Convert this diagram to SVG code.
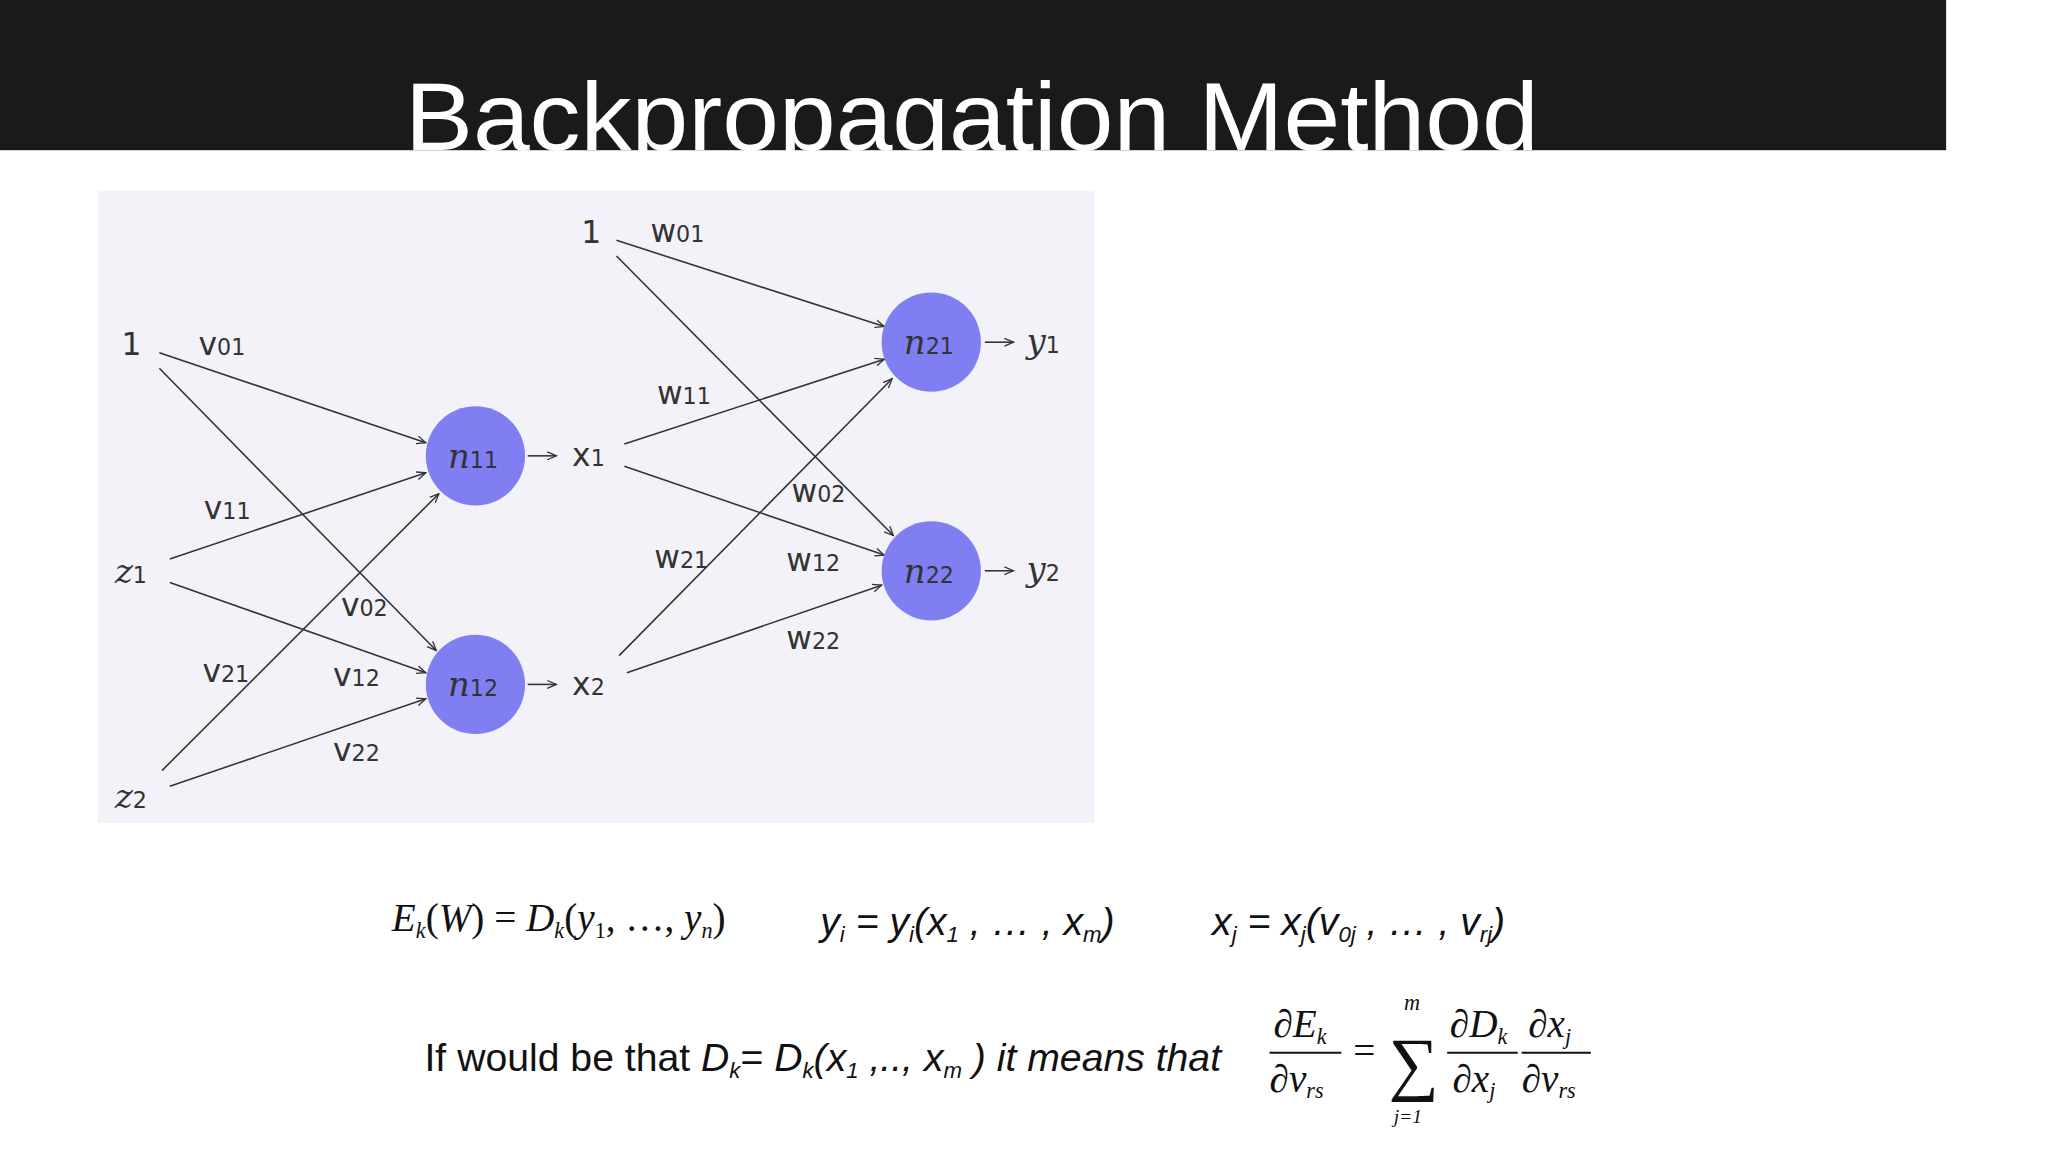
<svg xmlns="http://www.w3.org/2000/svg" width="2048" height="1152" viewBox="0 0 2048 1152">
<style>
.lbl{font-family:"DejaVu Sans",sans-serif;font-size:24px;fill:#333}
.it{font-family:"DejaVu Serif",serif;font-style:italic;font-size:26px;fill:#333}
.sub{font-size:17px}
.e{stroke:#333;stroke-width:1.2;fill:none;marker-end:url(#ah)}
.nd{fill:#7f7ff2}
.f{font-family:"Liberation Sans",sans-serif;font-size:30px;fill:#111}
.i{font-style:italic}
.fs{font-family:"Liberation Serif",serif;font-style:italic;font-size:30px;fill:#111}
</style>
<defs><marker id="ah" markerWidth="8" markerHeight="8" refX="7" refY="4" orient="auto" markerUnits="userSpaceOnUse"><path d="M0,1 L7,4 L0,7" fill="none" stroke="#333" stroke-width="1"/></marker></defs>
<rect width="2048" height="1152" fill="#fff"/>
<g transform="scale(1.30612)">
<rect x="0" y="0" width="1490" height="115" fill="#1a1a1a"/>
<text x="310" y="115" font-family="Liberation Sans,sans-serif" font-size="74" fill="#fff" textLength="868" lengthAdjust="spacingAndGlyphs">Backpropagation Method</text>
<rect x="75" y="146" width="763" height="484" fill="#f3f2f8"/>
<g id="connectors">
<line class="e" x1="122" y1="270" x2="326" y2="339"/>
<line class="e" x1="122" y1="282" x2="334" y2="498"/>
<line class="e" x1="130" y1="428" x2="326" y2="362"/>
<line class="e" x1="130" y1="446" x2="326" y2="515"/>
<line class="e" x1="124" y1="590" x2="336" y2="378"/>
<line class="e" x1="130" y1="602" x2="326" y2="535"/>
<line class="e" x1="478" y1="340" x2="677" y2="275"/>
<line class="e" x1="478" y1="357" x2="677" y2="425"/>
<line class="e" x1="474" y1="502" x2="683" y2="290"/>
<line class="e" x1="480" y1="515" x2="675" y2="448"/>
<line class="e" x1="472" y1="184" x2="677" y2="250"/>
<line class="e" x1="472" y1="196" x2="684" y2="410"/>
<line class="e" x1="404" y1="349" x2="426" y2="349"/>
<line class="e" x1="404" y1="524" x2="426" y2="524"/>
<line class="e" x1="754" y1="262" x2="776" y2="262"/>
<line class="e" x1="754" y1="437" x2="776" y2="437"/>
</g>
<g id="n11"><circle class="nd" cx="364" cy="349" r="38"/><text class="it" x="343" y="358">n<tspan class="sub" style="font-style:normal;font-family:'DejaVu Sans'">11</tspan></text></g>
<g id="n12"><circle class="nd" cx="364" cy="524" r="38"/><text class="it" x="343" y="533">n<tspan class="sub" style="font-style:normal;font-family:'DejaVu Sans'">12</tspan></text></g>
<g id="n21"><circle class="nd" cx="713" cy="262" r="38"/><text class="it" x="692" y="271">n<tspan class="sub" style="font-style:normal;font-family:'DejaVu Sans'">21</tspan></text></g>
<g id="n22"><circle class="nd" cx="713" cy="437" r="38"/><text class="it" x="692" y="446">n<tspan class="sub" style="font-style:normal;font-family:'DejaVu Sans'">22</tspan></text></g>
<g id="inputs">
<text class="lbl" x="93" y="272">1</text>
<text class="lbl" x="445" y="186">1</text>
<text class="it" x="88" y="446">z<tspan class="sub" style="font-style:normal;font-family:'DejaVu Sans'">1</tspan></text>
<text class="it" x="88" y="619">z<tspan class="sub" style="font-style:normal;font-family:'DejaVu Sans'">2</tspan></text>
<text class="lbl" x="438" y="357">x<tspan class="sub">1</tspan></text>
<text class="lbl" x="438" y="532">x<tspan class="sub">2</tspan></text>
<text class="it" x="786" y="270">y<tspan class="sub" style="font-style:normal;font-family:'DejaVu Sans'">1</tspan></text>
<text class="it" x="786" y="445">y<tspan class="sub" style="font-style:normal;font-family:'DejaVu Sans'">2</tspan></text>
</g>
<g id="weights" class="lbl">
<text x="152" y="272">v<tspan class="sub">01</tspan></text>
<text x="498" y="185">w<tspan class="sub">01</tspan></text>
<text x="503" y="309">w<tspan class="sub">11</tspan></text>
<text x="156" y="397">v<tspan class="sub">11</tspan></text>
<text x="606" y="384">w<tspan class="sub">02</tspan></text>
<text x="501" y="435">w<tspan class="sub">21</tspan></text>
<text x="602" y="437">w<tspan class="sub">12</tspan></text>
<text x="261" y="472">v<tspan class="sub">02</tspan></text>
<text x="602" y="497">w<tspan class="sub">22</tspan></text>
<text x="155" y="522">v<tspan class="sub">21</tspan></text>
<text x="255" y="525">v<tspan class="sub">12</tspan></text>
<text x="255" y="583">v<tspan class="sub">22</tspan></text>
</g>
<g id="formulas">
<text class="fs" x="300" y="713">E<tspan class="sub" dy="5">k</tspan><tspan dy="-5" style="font-style:normal">(</tspan>W<tspan style="font-style:normal">) = </tspan>D<tspan class="sub" dy="5">k</tspan><tspan dy="-5" style="font-style:normal">(</tspan>y<tspan class="sub" dy="5" style="font-style:normal">1</tspan><tspan dy="-5" style="font-style:normal">, …, </tspan>y<tspan class="sub" dy="5">n</tspan><tspan dy="-5" style="font-style:normal">)</tspan></text>
<text class="f i" x="628" y="716">y<tspan class="sub" dy="5">i</tspan><tspan dy="-5"> = y</tspan><tspan class="sub" dy="5">i</tspan><tspan dy="-5">(x</tspan><tspan class="sub" dy="5">1</tspan><tspan dy="-5"> , … , x</tspan><tspan class="sub" dy="5">m</tspan><tspan dy="-5">)</tspan></text>
<text class="f i" x="928" y="716">x<tspan class="sub" dy="5">j</tspan><tspan dy="-5"> = x</tspan><tspan class="sub" dy="5">j</tspan><tspan dy="-5">(v</tspan><tspan class="sub" dy="5">0j</tspan><tspan dy="-5"> , … , v</tspan><tspan class="sub" dy="5">rj</tspan><tspan dy="-5">)</tspan></text>
<text class="f" x="325" y="820">If would be that <tspan class="i">D</tspan><tspan class="sub i" dy="5">k</tspan><tspan dy="-5">= </tspan><tspan class="i">D</tspan><tspan class="sub i" dy="5">k</tspan><tspan dy="-5" class="i">(x</tspan><tspan class="sub i" dy="5">1</tspan><tspan dy="-5" class="i"> ,.., x</tspan><tspan class="sub i" dy="5">m</tspan><tspan dy="-5" class="i"> ) it means that</tspan></text>
<g class="fs" font-size="28">
<text x="975" y="794">∂E<tspan class="sub" dy="5">k</tspan></text>
<line x1="972" y1="806" x2="1027" y2="806" stroke="#111" stroke-width="1.5"/>
<text x="972" y="836">∂v<tspan class="sub" dy="5">rs</tspan></text>
<text x="1036" y="815" style="font-style:normal">=</text>
<text x="1063" y="832" font-size="54" style="font-style:normal">∑</text>
<text x="1075" y="773" class="sub">m</text>
<text x="1067" y="860" class="sub" style="font-size:15px">j=1</text>
<text x="1110" y="794">∂D<tspan class="sub" dy="5">k</tspan></text>
<line x1="1108" y1="806" x2="1162" y2="806" stroke="#111" stroke-width="1.5"/>
<text x="1112" y="836">∂x<tspan class="sub" dy="5">j</tspan></text>
<text x="1170" y="794">∂x<tspan class="sub" dy="5">j</tspan></text>
<line x1="1165" y1="806" x2="1218" y2="806" stroke="#111" stroke-width="1.5"/>
<text x="1165" y="836">∂v<tspan class="sub" dy="5">rs</tspan></text>
</g>
</g>
</g>
</svg>
